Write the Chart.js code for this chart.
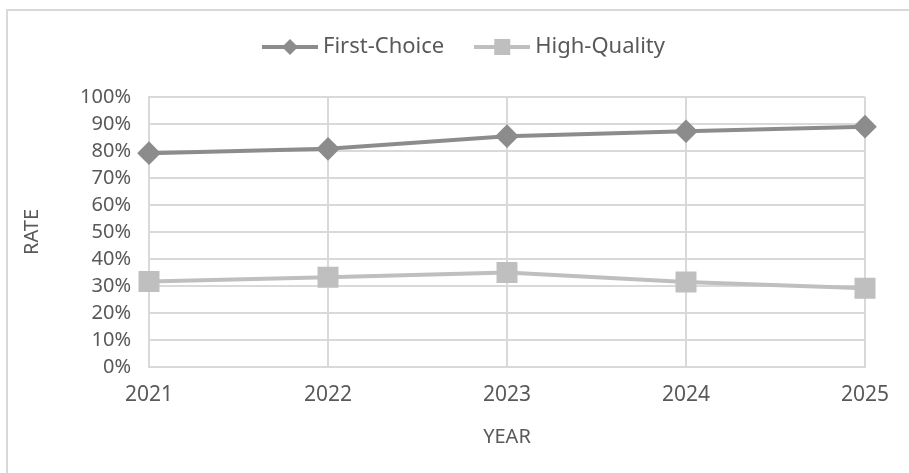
<!DOCTYPE html>
<html>
<head>
<meta charset="utf-8">
<script src="https://cdn.jsdelivr.net/npm/chart.js@4"></script>
<style>
    html, body { margin: 0; padding: 0; background: #fff; }
    #frame { position: absolute; left: 6px; top: 9px; width: 910px; height: 470px;
             border-left: 2px solid #d9d9d9; border-top: 2px solid #d9d9d9; }
    #wrap { position: absolute; left: 0; top: 0; width: 909px; height: 473px; }
</style>
</head>
<body>
<div id="frame"></div>
<div id="wrap"><canvas id="myChart"></canvas></div>
<script>
    const years = ['2021', '2022', '2023', '2024', '2025']
    const firstChoice = [79.2, 80.8, 85.5, 87.3, 89.0]
    const highQuality = [31.7, 33.2, 35.0, 31.5, 29.2]

    const textColor = '#595959'
    const gridColor = '#d9d9d9'
    const fontFamily = '"Noto Sans", sans-serif'

    // little picture for the legend: line with the marker in the middle
    function legendIcon(color, style) {
        const c = document.createElement('canvas')
        c.width = 56
        c.height = 20
        const g = c.getContext('2d')
        g.strokeStyle = color
        g.lineWidth = 4
        g.beginPath()
        g.moveTo(0, 10)
        g.lineTo(56, 10)
        g.stroke()
        g.fillStyle = color
        g.beginPath()
        if (style === 'diamond') {
            g.moveTo(28, 2); g.lineTo(36, 10); g.lineTo(28, 18); g.lineTo(20, 10)
        } else {
            g.rect(20, 2, 16, 16)
        }
        g.fill()
        return c
    }

    // extra room under the legend, and push it a bit to the right
    const legendGap = {
        id: 'legendGap',
        beforeInit: function (chart) {
            const fit = chart.legend.fit
            chart.legend.fit = function () {
                fit.bind(chart.legend)()
                this.height += 29
            }
        },
        afterLayout: function (chart) {
            chart.legend.left += 34
            chart.legend.right += 34
        }
    }

    const ctx = document.getElementById('myChart')
    const data = {
        labels: years,
        datasets: [{
            label: 'First-Choice',
            data: firstChoice,
            borderColor: '#8c8c8c',
            backgroundColor: '#8c8c8c',
            borderWidth: 4,
            pointStyle: 'rectRot',
            pointRadius: 9,
            pointHoverRadius: 9,
            icon: legendIcon('#8c8c8c', 'diamond')
        }, {
            label: 'High-Quality',
            data: highQuality,
            borderColor: '#bfbfbf',
            backgroundColor: '#bfbfbf',
            borderWidth: 4,
            pointStyle: 'rect',
            pointRadius: 12,
            pointHoverRadius: 12,
            icon: legendIcon('#bfbfbf', 'square')
        }]
    }

    const config = {
        type: 'line',
        data: data,
        plugins: [legendGap],
        options: {
            responsive: true,
            maintainAspectRatio: false,
            animation: false,
            layout: { padding: { left: 0, right: 44, top: 0, bottom: 0 } },
            plugins: {
                tooltip: { enabled: false },
                legend: {
                    position: 'top',
                    labels: {
                        usePointStyle: true,
                        pointStyleWidth: 44,
                        padding: 36,
                        color: textColor,
                        font: { family: fontFamily, size: 22 },
                        generateLabels: function (chart) {
                            return chart.data.datasets.map(function (ds, i) {
                                return {
                                    text: ds.label,
                                    pointStyle: ds.icon,
                                    fillStyle: ds.borderColor,
                                    strokeStyle: ds.borderColor,
                                    lineWidth: 0,
                                    fontColor: textColor,
                                    datasetIndex: i
                                }
                            })
                        }
                    }
                }
            },
            scales: {
                x: {
                    offset: false,
                    grid: { color: gridColor, lineWidth: 2, drawTicks: false },
                    border: { color: gridColor, width: 2 },
                    ticks: { color: textColor, padding: 15, font: { family: fontFamily, size: 21 }, maxRotation: 0 },
                    title: { display: true, text: 'YEAR', color: textColor, font: { family: fontFamily, size: 20 },
                             padding: { top: 0, bottom: 24 } },
                    afterFit: function (scale) { scale.height = 106 }
                },
                y: {
                    min: 0,
                    max: 100,
                    grid: { color: gridColor, lineWidth: 2, drawTicks: false },
                    border: { color: gridColor, width: 2 },
                    ticks: {
                        stepSize: 10,
                        autoSkip: false,
                        padding: 18,
                        color: textColor,
                        font: { family: fontFamily, size: 20, lineHeight: 1 },
                        callback: function (v) { return v + '%' }
                    },
                    title: { display: true, text: 'RATE', color: textColor, font: { family: fontFamily, size: 20 },
                             padding: { top: 20, bottom: 0 } },
                    afterFit: function (scale) { scale.width = 149 }
                }
            }
        }
    }
    new Chart(ctx, config)
</script>
</body>
</html>
